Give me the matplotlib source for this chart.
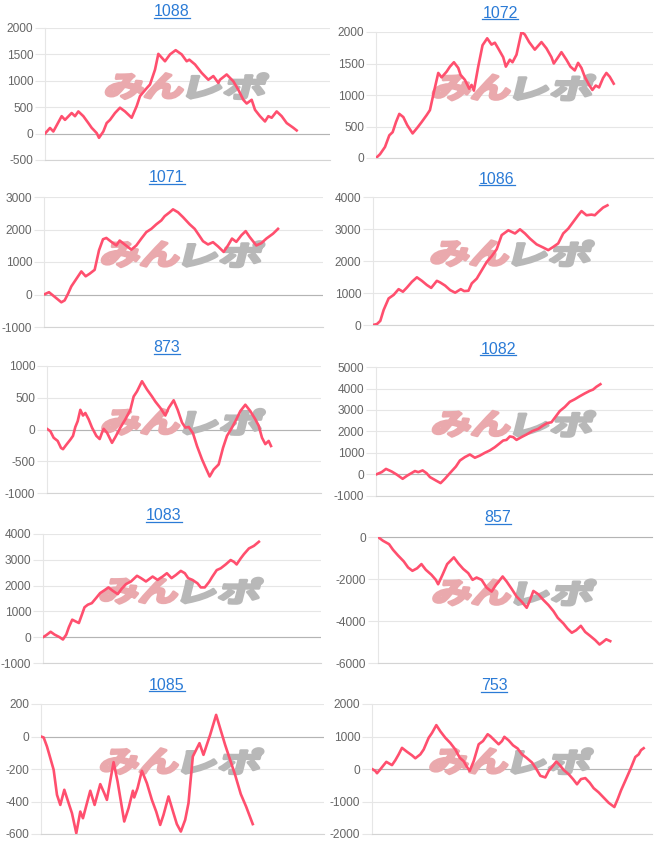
import matplotlib
matplotlib.use("Agg")
import matplotlib.pyplot as plt
from matplotlib.textpath import TextPath
from matplotlib.patches import PathPatch
from matplotlib.font_manager import FontProperties
from matplotlib.transforms import Affine2D, ScaledTranslation
from matplotlib.lines import Line2D

# game counts (x) and difference in medals (y) per machine
g1088 = [0, 15, 25, 50, 60, 80, 90, 100, 115, 130, 140, 155, 162, 175, 185, 195, 210, 225, 240, 260, 275, 285, 305,
         315, 330, 340, 360, 375, 392, 410, 425, 433, 450, 470, 490, 505, 520, 525, 545, 565, 580, 595, 605, 620, 630,
         645, 660, 670, 680, 695, 710, 725, 745, 755]
d1088 = [0, 107, 40, 330, 260, 390, 330, 420, 330, 200, 110, 10, -80, 40, 200, 260, 390, 490, 420, 300, 520, 710,
         860, 930, 1210, 1510, 1370, 1500, 1580, 1500, 1370, 1400, 1310, 1150, 1020, 1090, 960, 1020, 1120, 990, 830,
         640, 570, 640, 450, 330, 230, 330, 300, 420, 330, 200, 110, 60]

g1072 = [0, 12, 27, 40, 50, 60, 70, 82, 94, 110, 124, 137, 152, 162, 174, 187, 197, 212, 222, 234, 247, 254, 267, 280,
         287, 294, 307, 320, 334, 347, 357, 367, 382, 390, 402, 410, 422, 437, 447, 460, 477, 497, 512, 527, 534, 547,
         557, 572, 584, 597, 607, 617, 627, 640, 650, 660, 670, 682, 692, 702, 714]
d1072 = [0, 60, 175, 360, 410, 570, 700, 650, 520, 390, 480, 570, 680, 760, 1050, 1350, 1280, 1370, 1450, 1520, 1430,
         1320, 1240, 1100, 1160, 1070, 1450, 1790, 1900, 1800, 1830, 1740, 1600, 1450, 1560, 1520, 1640, 2000, 1960,
         1840, 1720, 1840, 1740, 1600, 1500, 1600, 1680, 1560, 1450, 1390, 1510, 1430, 1290, 1160, 1080, 1150, 1120,
         1270, 1350, 1290, 1180]

g1071 = [0, 15, 27, 39, 52, 62, 72, 82, 97, 112, 125, 137, 152, 165, 177, 187, 202, 217, 227, 242, 262, 277, 292, 307,
         322, 337, 352, 362, 377, 387, 402, 417, 437, 452, 462, 477, 492, 507, 522, 539, 552, 564, 577, 592, 605, 617,
         637, 652, 667, 687, 702]
d1071 = [0, 70, -30, -130, -240, -180, 20, 250, 480, 710, 560, 640, 760, 1360, 1700, 1740, 1620, 1510, 1660, 1540,
         1380, 1510, 1720, 1920, 2020, 2160, 2280, 2410, 2530, 2620, 2530, 2380, 2160, 2020, 1870, 1640, 1540, 1610,
         1480, 1310, 1510, 1720, 1620, 1820, 1950, 1770, 1510, 1580, 1720, 1870, 2020]

g1086 = [0, 12, 22, 32, 47, 62, 77, 90, 102, 117, 132, 147, 162, 175, 192, 202, 217, 232, 247, 264, 274, 287, 297,
         312, 327, 342, 357, 372, 387, 407, 427, 442, 457, 472, 492, 512, 527, 542, 557, 572, 587, 602, 617, 627, 642,
         657, 667, 677, 692, 705]
d1086 = [0, 30, 130, 470, 830, 940, 1120, 1040, 1170, 1350, 1490, 1380, 1250, 1160, 1380, 1330, 1230, 1090, 1010,
         1120, 1060, 1070, 1300, 1450, 1710, 1970, 2150, 2370, 2810, 2960, 2860, 2990, 2860, 2700, 2520, 2420, 2340,
         2440, 2550, 2860, 3010, 3220, 3430, 3560, 3430, 3450, 3430, 3530, 3670, 3740]

g873 = [0, 10, 20, 32, 42, 48, 58, 70, 78, 85, 92, 100, 108, 115, 125, 135, 148, 158, 165, 170, 180, 195, 205, 220,
        235, 250, 260, 270, 285, 300, 315, 325, 340, 355, 365, 380, 392, 405, 415, 425, 438, 450, 465, 475, 488, 500,
        515, 528, 540, 555, 568, 580, 595, 610, 625, 635, 645, 655, 665, 672]
d873 = [10, -26, -130, -180, -290, -310, -240, -160, -100, 40, 130, 310, 220, 260, 160, 30, -100, -150, -50, 10, -50,
        -210, -120, 30, 160, 310, 520, 600, 760, 630, 520, 440, 340, 220, 340, 460, 310, 110, 30, 40, -60, -260, -470,
        -590, -740, -630, -550, -290, -100, 30, 160, 290, 390, 290, 160, 60, -130, -230, -180, -260]

g1082 = [0, 17, 30, 47, 62, 80, 94, 117, 127, 140, 152, 162, 180, 194, 207, 220, 240, 252, 267, 282, 297, 312, 327,
         342, 357, 370, 382, 392, 402, 412, 422, 437, 452, 470, 487, 502, 514, 527, 540, 552, 567, 582, 597, 612, 627,
         642, 652, 662, 674]
d1082 = [0, 110, 260, 140, 0, -200, -50, 160, 110, 190, 60, -120, -280, -400, -200, 30, 370, 650, 810, 930, 780, 880,
         1010, 1120, 1270, 1430, 1580, 1610, 1770, 1740, 1610, 1740, 1860, 2020, 2120, 2280, 2390, 2430, 2700, 2950,
         3140, 3380, 3500, 3640, 3770, 3890, 3950, 4080, 4200]

g1083 = [0, 10, 23, 35, 50, 60, 70, 78, 88, 97, 108, 117, 125, 135, 147, 160, 172, 185, 197, 210, 225, 237, 250, 265,
         283, 295, 310, 330, 345, 360, 373, 387, 400, 415, 427, 437, 450, 465, 475, 487, 500, 510, 523, 535, 550, 565,
         575, 583, 595, 605, 620, 635, 650]
d1083 = [0, 80, 210, 100, 0, -90, 100, 390, 680, 620, 550, 870, 1160, 1260, 1320, 1520, 1710, 1820, 1930, 1800, 1670,
         1880, 2060, 2160, 2380, 2290, 2160, 2350, 2220, 2350, 2480, 2290, 2410, 2570, 2480, 2290, 2220, 2090, 1930,
         1930, 2140, 2350, 2600, 2670, 2820, 2990, 2920, 2820, 3050, 3220, 3440, 3540, 3700]

g857 = [0, 15, 33, 45, 60, 77, 90, 103, 117, 130, 143, 160, 173, 180, 193, 207, 227, 240, 255, 270, 283, 295, 310,
        325, 340, 353, 373, 385, 400, 415, 430, 445, 453, 465, 480, 495, 510, 525, 538, 555, 567, 580, 593, 607, 620,
        635, 650, 663, 673, 683, 695]
d857 = [0, -180, -340, -610, -880, -1160, -1450, -1610, -1490, -1290, -1560, -1800, -2040, -2250, -1800, -1290, -970,
        -1250, -1520, -1720, -2040, -1930, -2040, -2410, -2600, -2280, -1880, -2120, -2470, -2840, -3080, -3370, -3080,
        -2570, -2730, -3000, -3240, -3530, -3850, -4120, -4360, -4560, -4440, -4230, -4520, -4710, -4910, -5120, -5000,
        -4870, -4960]

g1085 = [0, 8, 18, 28, 38, 48, 58, 70, 83, 93, 106, 118, 126, 138, 148, 161, 178, 190, 198, 213, 218, 230, 240, 250,
         263, 276, 280, 290, 303, 318, 333, 346, 358, 368, 383, 398, 408, 420, 433, 443, 456, 476, 488, 498, 508, 526,
         538, 553, 568, 583, 600, 616, 636]
d1085 = [0, -6, -62, -133, -205, -359, -421, -328, -410, -472, -595, -462, -503, -410, -334, -421, -293, -349, -390,
         -215, -158, -277, -400, -523, -441, -334, -375, -318, -211, -287, -390, -462, -544, -482, -369, -472, -539,
         -585, -513, -410, -123, -41, -113, -51, 10, 133, 51, -51, -144, -236, -354, -431, -539]

g753 = [0, 10, 15, 25, 35, 43, 53, 60, 70, 80, 90, 105, 120, 130, 145, 155, 170, 180, 193, 205, 220, 235, 250, 263,
        275, 285, 293, 305, 320, 333, 347, 355, 370, 380, 390, 397, 410, 423, 437, 450, 463, 480, 493, 505, 520, 530,
        543, 553, 565, 575, 590, 603, 615, 627, 640, 653, 665, 680, 695, 710, 727, 737, 747, 760, 775, 790, 800, 807,
        815]
d753 = [0, -60, -130, -10, 120, 220, 160, 120, 270, 450, 650, 530, 420, 330, 450, 600, 960, 1110, 1350, 1160, 960,
        800, 600, 350, 240, 60, -60, 240, 760, 860, 1070, 1010, 860, 760, 860, 990, 880, 730, 630, 450, 350, 200, 0,
        -210, -260, -60, 100, 230, 100, -30, -160, -310, -470, -310, -280, -420, -590, -720, -880, -1040, -1170, -930,
        -660, -360, -10, 370, 450, 580, 640]

titles = ["1088", "1072", "1071", "1086", "873", "1082", "1083", "857", "1085", "753"]
games = [g1088, g1072, g1071, g1086, g873, g1082, g1083, g857, g1085, g753]
diffs = [d1088, d1072, d1071, d1086, d873, d1082, d1083, d857, d1085, d753]
yticks = [[-500, 0, 500, 1000, 1500, 2000], [0, 500, 1000, 1500, 2000], [-1000, 0, 1000, 2000, 3000],
          [0, 1000, 2000, 3000, 4000], [-1000, -500, 0, 500, 1000], [-1000, 0, 1000, 2000, 3000, 4000, 5000],
          [-1000, 0, 1000, 2000, 3000, 4000], [-6000, -4000, -2000, 0], [-600, -400, -200, 0, 200],
          [-2000, -1000, 0, 1000, 2000]]
xmax = [855, 832, 837, 842, 822, 832, 837, 820, 850, 840]

# layout in pixels: (left, top, right, bottom) of plot area, title position
W, H = 658, 844
boxes = [(45, 28, 330, 160), (376, 32, 653, 158), (44, 197, 323, 327), (373, 197, 653, 325),
         (47, 366, 321, 493), (376, 367, 653, 496), (43, 534, 321, 663), (378, 537, 652, 663),
         (41, 704, 324, 834), (372, 704, 652, 834)]
title_pos = [(172, 12), (500, 13), (167, 178), (497, 179), (167, 348), (498, 349), (164, 516), (498, 518),
             (167, 685), (494, 686)]

LINE = "#ff4f6e"
GRID = "#e6e6e6"
TXT = "#666666"
TITLE = "#2b7bd6"
FONT = "Liberation Sans"

fig = plt.figure(figsize=(W / 100, H / 100), dpi=100)
logo_font = FontProperties(family="Noto Sans CJK JP", weight="bold")


def draw_logo(ax):
    parts = [("みん", "#eaa9ad", -80), ("レポ", "#b8b8b8", 2)]
    for txt, col, off in parts:
        path = TextPath((0, 0), txt, size=40, prop=logo_font)
        ext = path.get_extents()
        tr = (Affine2D().translate(-ext.x0, -ext.y0).scale(76 / ext.width, 25 / ext.height)
              .skew_deg(14, 0).translate(off - 3, -12.5)
              + ScaledTranslation(0.5, 0.56, ax.transAxes))
        ax.add_artist(PathPatch(path, transform=tr, facecolor=col, edgecolor=col, lw=2.2,
                                joinstyle="round", zorder=1.5))


title_texts = []
for i in range(10):
    l, t, r, b = boxes[i]
    ax = fig.add_axes([l / W, 1 - b / H, (r - l) / W, (b - t) / H])
    ax.plot(games[i], diffs[i], color=LINE, lw=1.9, solid_joinstyle="round", zorder=3)
    ax.set_xlim(0, xmax[i])
    ax.set_ylim(yticks[i][0], yticks[i][-1])
    ax.set_yticks(yticks[i])
    ax.set_yticklabels([str(v) for v in yticks[i]], fontfamily=FONT, fontsize=8.6, color=TXT)
    ax.set_xticks([])
    ax.grid(axis="y", color=GRID, lw=0.8, zorder=0)
    ax.set_axisbelow(True)
    ax.tick_params(axis="y", length=7, width=0.8, color=GRID, pad=1.5)
    for s in ["top", "right"]:
        ax.spines[s].set_visible(False)
    ax.spines["left"].set_color(GRID)
    ax.spines["left"].set_linewidth(0.8)
    ax.spines["bottom"].set_color("#d4d4d4")
    ax.spines["bottom"].set_linewidth(0.8)
    if yticks[i][0] < 0 < yticks[i][-1]:
        ax.axhline(0, color="#b4b4b4", lw=0.8, zorder=1)
    elif yticks[i][-1] == 0:
        ax.spines["top"].set_visible(True)
        ax.spines["top"].set_color("#b4b4b4")
        ax.spines["top"].set_linewidth(0.8)
    draw_logo(ax)
    tx, ty = title_pos[i]
    title_texts.append(fig.text(tx / W, 1 - ty / H, titles[i], ha="center", va="center",
                                fontfamily=FONT, fontsize=11.5, color=TITLE))

# underline the titles (they are links)
fig.canvas.draw()
for tt in title_texts:
    bb = tt.get_window_extent()
    y = (bb.y0 + 1.5) / H
    fig.add_artist(Line2D([bb.x0 / W, bb.x1 / W], [y, y], color=TITLE, lw=0.9))

fig.savefig("out.png", dpi=100)
